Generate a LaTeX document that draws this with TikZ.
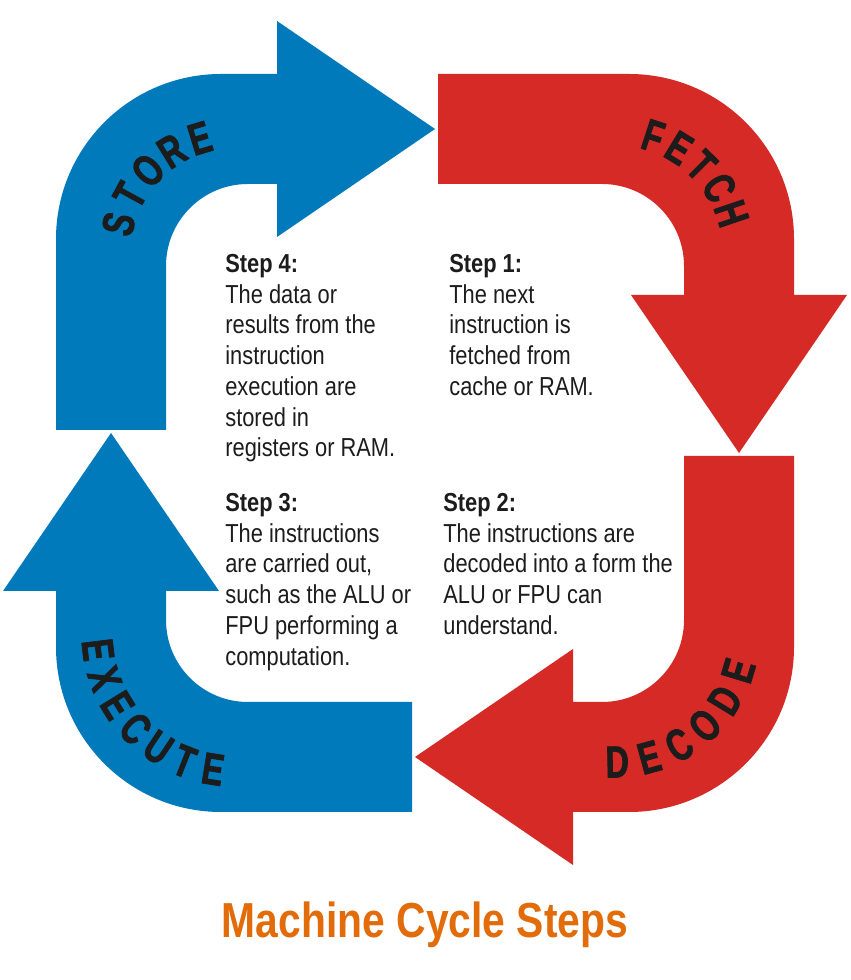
\documentclass[tikz,border=0pt]{standalone}
\usepackage{fontspec}
\setmainfont{Liberation Sans}
\newfontfamily\bodyfont[FakeStretch=0.84]{Liberation Sans}
\newfontfamily\lblfont[FakeStretch=0.72,FakeBold=1.6]{Liberation Sans}
\newfontfamily\ttlfont[FakeStretch=0.83]{Liberation Sans}
\definecolor{cycblue}{RGB}{0,122,187}
\definecolor{cycred}{RGB}{214,42,38}
\definecolor{ttlorange}{RGB}{226,108,10}
\definecolor{inkdark}{RGB}{28,28,28}
\newcommand\cycarrowpath{%
  (-369,13) -- (-369,204) arc[start angle=180,end angle=90,radius=165]
      -- (-148,369) -- (-148,422) -- (10,314) -- (-148,206) -- (-148,259)
      -- (-177,259) arc[start angle=90,end angle=180,radius=82]
      -- (-259,13) -- cycle}
\tikzset{
  lbl/.style={inner sep=0pt, text=inkdark, font=\lblfont\bfseries\fontsize{25.5}{25.5}\selectfont},
  stepbox/.style={anchor=north west, inner sep=0pt, align=left, text=inkdark,
    font=\bodyfont\fontsize{14.8}{17.5}\selectfont},
}
\begin{document}
\begin{tikzpicture}[x=0.02cm,y=0.02cm]
\fill[white] (0,0) rectangle (850,980);
\useasboundingbox (0,0) rectangle (850,980);
\begin{scope}[shift={(425,537)}]
  % arrows
  \begin{scope}\fill[cycblue] \cycarrowpath;\end{scope}
  \begin{scope}[rotate=-90]\fill[cycred] \cycarrowpath;\end{scope}
  \begin{scope}[rotate=180]\fill[cycred] \cycarrowpath;\end{scope}
  \begin{scope}[rotate=90]\fill[cycblue] \cycarrowpath;\end{scope}
  % STORE
  \begin{scope}[shift={(-190,190)}]
    \foreach \c [count=\i from 0] in {S,T,O,R,E} {
      \pgfmathsetmacro\ang{166-14.75*\i}
      \node[lbl, rotate=\ang-90] (store\i) at (\ang:120) {\c};
    }
  \end{scope}
  % FETCH
  \begin{scope}[shift={(190,190)}]
    \foreach \c [count=\i from 0] in {F,E,T,C,H} {
      \pgfmathsetmacro\ang{71.9-13.3*\i}
      \node[lbl, rotate=\ang-90] (fetch\i) at (\ang:123) {\c};
    }
  \end{scope}
  % DECODE
  \begin{scope}[shift={(190,-190)}]
    \foreach \c [count=\i from 0] in {D,E,C,O,D,E} {
      \pgfmathsetmacro\ang{-89+14.4*\i}
      \node[lbl, rotate=\ang+90] (decode\i) at (\ang:129) {\c};
    }
  \end{scope}
  % EXECUTE
  \begin{scope}[shift={(-190,-190)}]
    \foreach \c [count=\i from 0] in {E,X,E,C,U,T,E} {
      \pgfmathsetmacro\ang{187+12.3*\i}
      \node[lbl, rotate=\ang+90] (execute\i) at (\ang:138) {\c};
    }
  \end{scope}
\end{scope}
% step texts
\node[stepbox] (step4) at (225,729.5) {\strut\textbf{Step 4:}\\The data or\\results from the\\instruction\\execution are\\stored in\\registers or RAM.};
\node[stepbox] (step1) at (449,729.5) {\strut\textbf{Step 1:}\\The next\\instruction is\\fetched from\\cache or RAM.};
\node[stepbox] (step3) at (225,490.5) {\strut\textbf{Step 3:}\\The instructions\\are carried out,\\such as the ALU or\\FPU performing a\\computation.};
\node[stepbox] (step2) at (443,490.5) {\strut\textbf{Step 2:}\\The instructions are\\decoded into a form the\\ALU or FPU can\\understand.};
% title
\node[anchor=base, inner sep=0pt, text=ttlorange, font=\ttlfont\bfseries\fontsize{28}{30}\selectfont] (title) at (425,42) {Machine Cycle Steps};
\end{tikzpicture}
\end{document}
